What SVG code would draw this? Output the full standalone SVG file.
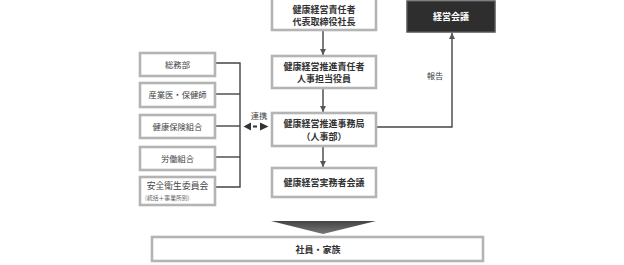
<svg xmlns="http://www.w3.org/2000/svg" width="624" height="265" viewBox="0 0 624 265">
<defs>
<style>
.box{fill:#fff;stroke:#b4b4b4;stroke-width:2.6}
.dark{fill:#2e2e2e;stroke:#555;stroke-width:1.5}
.t{font-family:"Noto Sans CJK JP","Noto Sans",sans-serif;font-size:9px;fill:#333;text-anchor:middle;font-weight:bold}
.ts{font-family:"Noto Sans CJK JP","Noto Sans",sans-serif;font-size:8.3px;fill:#444;text-anchor:middle}
.tw{font-family:"Noto Sans CJK JP","Noto Sans",sans-serif;font-size:9px;fill:#fff;text-anchor:middle;font-weight:bold}
.tiny{font-family:"Noto Sans CJK JP","Noto Sans",sans-serif;font-size:5.8px;fill:#666}
.ln{fill:none;stroke:#444;stroke-width:1.4}
.head{fill:#333}
</style>
<marker id="ah" viewBox="0 0 10 10" refX="10" refY="5" markerWidth="6" markerHeight="6" markerUnits="userSpaceOnUse" orient="auto-start-reverse">
<path d="M0,0 L10,5 L0,10 z" fill="#555"/>
</marker>
<linearGradient id="g" x1="0" y1="0" x2="0" y2="1">
<stop offset="0" stop-color="#444"/>
<stop offset="1" stop-color="#777"/>
</linearGradient>
</defs>

<g id="connectors">
<line class="ln" x1="323" y1="30" x2="323" y2="55" marker-end="url(#ah)"/>
<line class="ln" x1="323" y1="88" x2="323" y2="112" marker-end="url(#ah)"/>
<line class="ln" x1="323" y1="146" x2="323" y2="167" marker-end="url(#ah)"/>
<polyline class="ln" points="377,127 452,127 452,33" marker-end="url(#ah)"/>
<polyline class="ln" points="216,63 240,63 240,187 216,187"/>
<line class="ln" x1="216" y1="94" x2="240" y2="94"/>
<line class="ln" x1="216" y1="126" x2="240" y2="126"/>
<line class="ln" x1="216" y1="157" x2="240" y2="157"/>
<g id="link-arrow">
<polygon class="head" points="243.5,126.5 251,122.5 251,130.5"/>
<line x1="251" y1="126.5" x2="260" y2="126.5" stroke="#333" stroke-width="1.8" stroke-dasharray="0,2,4,3"/>
<polygon class="head" points="268.5,126.5 260,122.5 260,130.5"/>
</g>
<text class="ts" x="259" y="119">連携</text>
<text class="ts" x="435" y="79">報告</text>
</g>

<g id="n-ceo">
<rect class="box" x="272" y="-2" width="104" height="32"/>
<text class="t" x="324" y="13">健康経営責任者</text>
<text class="t" x="324" y="25">代表取締役社長</text>
</g>
<g id="n-officer">
<rect class="box" x="272" y="56" width="104" height="32"/>
<text class="t" x="324" y="70">健康経営推進責任者</text>
<text class="t" x="324" y="82">人事担当役員</text>
</g>
<g id="n-office">
<rect class="box" x="272" y="113" width="104" height="33"/>
<text class="t" x="324" y="127">健康経営推進事務局</text>
<text class="t" x="324" y="140">（人事部）</text>
</g>
<g id="n-meeting">
<rect class="box" x="272" y="168" width="104" height="29"/>
<text class="t" x="324" y="186">健康経営実務者会議</text>
</g>
<g id="n-board">
<rect class="dark" x="407" y="1" width="88" height="31"/>
<text class="tw" x="451" y="20">経営会議</text>
</g>

<g id="n-general">
<rect class="box" x="140" y="53" width="75" height="23"/>
<text class="ts" x="177.5" y="67.5">総務部</text>
</g>
<g id="n-doctor">
<rect class="box" x="140" y="83" width="75" height="24"/>
<text class="ts" x="177.5" y="98">産業医・保健師</text>
</g>
<g id="n-insurance">
<rect class="box" x="140" y="115" width="75" height="23"/>
<text class="ts" x="177.5" y="129.5">健康保険組合</text>
</g>
<g id="n-union">
<rect class="box" x="140" y="147" width="75" height="23"/>
<text class="ts" x="177.5" y="161.5">労働組合</text>
</g>
<g id="n-safety">
<rect class="box" x="140" y="177" width="75" height="28"/>
<text class="ts" x="177.5" y="189" style="font-size:8.8px">安全衛生委員会</text>
<text class="tiny" x="145" y="200">(統括＋事業所別)</text>
</g>

<g id="n-bigarrow">
<polygon points="271,221 376,221 323,234" fill="url(#g)"/>
</g>
<g id="n-employees">
<rect class="box" x="152" y="237" width="331" height="24"/>
<text class="t" x="318" y="252.5">社員・家族</text>
</g>
</svg>
